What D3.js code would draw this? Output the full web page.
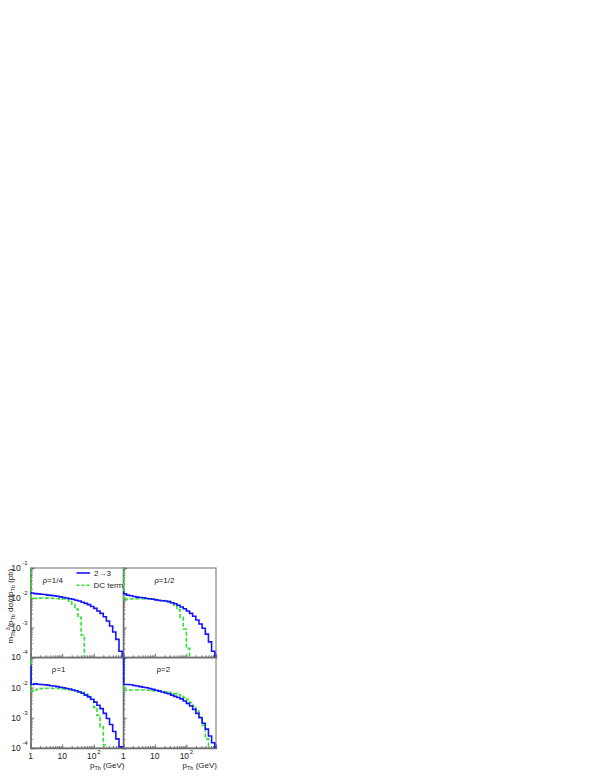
<!DOCTYPE html>
<html>
<head>
<meta charset="utf-8">
<script src="https://d3js.org/d3.v7.min.js"></script>
<style>
  body { margin: 0; background: #fff; }
  text { font-family: "Liberation Sans", Arial, sans-serif; fill: #222; }
</style>
</head>
<body>
<script>
// bin edges in GeV (first bin is the narrow one at pT = 1)
var binEdges = [1, 1.03, 1.26, 1.58, 2.0, 2.51, 3.16, 3.98, 5.01, 6.31, 7.94,
  10, 12.6, 15.8, 20.0, 25.1, 31.6, 39.8, 50.1, 63.1, 79.4,
  100, 126, 158, 200, 251, 316, 398, 501, 631, 794, 1000];

var panelLabels = ["\u03c1=1/4", "\u03c1=1/2", "\u03c1=1", "\u03c1=2"];
var legendLabels = ["2\u21923", "DC term"];

// 2 -> 3 histograms (pb)
var full14 = [0.0148, 0.0145, 0.0138, 0.0135, 0.0132, 0.0129, 0.0123, 0.0120, 0.0117, 0.0112, 0.0107,
  0.0102, 0.0098, 0.0093, 0.0089, 0.0083, 0.0078, 0.0071, 0.0065, 0.0059, 0.0051,
  0.0044, 0.0036, 0.0030, 0.0023, 0.00166, 0.00112, 0.00071, 0.00040, 0.00016, 0.00003];
var full12 = [0.016, 0.0135, 0.0123, 0.0117, 0.0110, 0.0105, 0.0102, 0.0100, 0.0095, 0.0093, 0.0089,
  0.0085, 0.0081, 0.0079, 0.0078, 0.0074, 0.0068, 0.0063, 0.0056, 0.0049, 0.0043,
  0.0036, 0.0030, 0.0024, 0.0018, 0.00132, 0.00095, 0.00060, 0.00033, 0.00016, 0.00003];
var full1 = [0.05, 0.0126, 0.0132, 0.0129, 0.0126, 0.0123, 0.0120, 0.0115, 0.0112, 0.0107, 0.0102,
  0.0098, 0.0093, 0.0089, 0.0083, 0.0078, 0.0071, 0.0065, 0.0056, 0.0049, 0.0041,
  0.0033, 0.0026, 0.0020, 0.0014, 0.00095, 0.00060, 0.00035, 0.00020, 0.00011, 0.00003];
var full2 = [0.2, 0.0126, 0.0126, 0.0123, 0.0117, 0.0112, 0.0107, 0.0102, 0.0098, 0.0093, 0.0087,
  0.0081, 0.0076, 0.0071, 0.0066, 0.0062, 0.0056, 0.0051, 0.0047, 0.0042, 0.0036,
  0.0030, 0.00245, 0.0019, 0.0014, 0.0010, 0.00066, 0.00042, 0.00025, 0.00015, 0.00003];

// DC term histograms (pb), 0.000001 = empty bin
var dc14 = [0.2, 0.0096, 0.0095, 0.0097, 0.0098, 0.0097, 0.0097, 0.0096, 0.0095, 0.0094, 0.0092,
  0.0091, 0.0087, 0.0076, 0.0060, 0.0042, 0.0022, 0.00056, 0.000001, 0.000001, 0.000001,
  0.000001, 0.000001, 0.000001, 0.000001, 0.000001, 0.000001, 0.000001, 0.000001, 0.000001, 0.000001];
var dc12 = [0.2, 0.0085, 0.0089, 0.0091, 0.0093, 0.0093, 0.0093, 0.0093, 0.0091, 0.0091, 0.0089,
  0.0087, 0.0083, 0.0081, 0.0078, 0.0074, 0.0068, 0.0056, 0.0040, 0.0022, 0.00089,
  0.0002, 0.000001, 0.000001, 0.000001, 0.000001, 0.000001, 0.000001, 0.000001, 0.000001, 0.000001];
var dc1 = [0.2, 0.0076, 0.0083, 0.0089, 0.0093, 0.0095, 0.0095, 0.0095, 0.0093, 0.0093, 0.0091,
  0.0089, 0.0087, 0.0085, 0.0081, 0.0078, 0.0072, 0.0068, 0.0062, 0.0054, 0.0040,
  0.0022, 0.0012, 0.0005, 0.000126, 0.000001, 0.000001, 0.000001, 0.000001, 0.000001, 0.000001];
var dc2 = [0.2, 0.0081, 0.0083, 0.0083, 0.0083, 0.0083, 0.0083, 0.0083, 0.0081, 0.0081, 0.0079,
  0.0078, 0.0076, 0.0074, 0.0072, 0.0069, 0.0066, 0.0063, 0.0059, 0.0054, 0.0047,
  0.0040, 0.0032, 0.0024, 0.00166, 0.00105, 0.00056, 0.0002, 0.000001, 0.000001, 0.000001];

var xMajor = [1, 10, 100];
var xMinor = [2, 3, 4, 5, 6, 7, 8, 9, 20, 30, 40, 50, 60, 70, 80, 90, 200, 300, 400, 500, 600, 700, 800];
var yMajor = [1e-4, 1e-3, 1e-2, 1e-1];
var yMinor = [2e-4, 3e-4, 4e-4, 5e-4, 6e-4, 7e-4, 8e-4, 9e-4, 2e-3, 3e-3, 4e-3, 5e-3, 6e-3, 7e-3, 8e-3, 9e-3,
  2e-2, 3e-2, 4e-2, 5e-2, 6e-2, 7e-2, 8e-2, 9e-2];
var xTickLabels = [["1", ""], ["10", ""], ["10", "2"]];
var yTickLabels = [["10", "-4"], ["10", "-3"], ["10", "-2"], ["10", "-1"]];

var fullSeries = [full14, full12, full1, full2];
var dcSeries = [dc14, dc12, dc1, dc2];

var blue = "#1414ff", green = "#33e033", axisCol = "#6e6e6e";

var svg = d3.select("body").append("svg")
  .attr("width", 599)
  .attr("height", 776);

// panel boxes: two columns, two rows, no gaps
var colX = [30.7, 123.3];
var panelW = 92.7;
var rowY = [568, 657.3];
var rowH = [89.3, 90.7];

var line = d3.line().curve(d3.curveStepAfter);

for (var p = 0; p < 4; p++) {
  var col = p % 2, row = Math.floor(p / 2);
  var x0 = colX[col], y0 = rowY[row], h = rowH[row];

  var x = d3.scaleLog().domain([1, 870]).range([0, panelW]);
  var y = d3.scaleLog().domain([1e-4, 1e-1]).range([h, 0]);

  var g = svg.append("g").attr("transform", "translate(" + x0 + "," + y0 + ")");

  // clip a little wider on the left so the spike at pT = 1 stays whole
  g.append("clipPath").attr("id", "clip" + p)
    .append("rect").attr("x", -1.5).attr("width", panelW + 1.5).attr("height", h);

  // frame
  g.append("rect")
    .attr("width", panelW).attr("height", h)
    .attr("fill", "none").attr("stroke", axisCol).attr("stroke-width", 1);

  // ticks point into the panel
  var bx = g.append("g").attr("transform", "translate(0," + h + ")");
  bx.call(d3.axisBottom(x).tickValues(xMajor).tickSize(-3.5).tickFormat(""));
  bx.append("g").call(d3.axisBottom(x).tickValues(xMinor).tickSize(-2).tickFormat(""))
    .select(".domain").remove();
  var ly = g.append("g");
  ly.call(d3.axisLeft(y).tickValues(yMajor).tickSize(-3.5).tickFormat(""));
  ly.append("g").call(d3.axisLeft(y).tickValues(yMinor).tickSize(-2).tickFormat(""))
    .select(".domain").remove();
  g.selectAll(".domain").attr("stroke", axisCol).attr("stroke-width", 1.3);
  g.selectAll(".tick line").attr("stroke", axisCol);

  // histograms, drawn as steps from the bin edges
  [[dcSeries[p], green, "4,2"], [fullSeries[p], blue, null]].forEach(function (s) {
    var vals = s[0];
    var pts = binEdges.map(function (e, i) {
      var v = vals[Math.min(i, vals.length - 1)];
      return [x(e), y(v)];
    });
    g.append("path")
      .attr("clip-path", "url(#clip" + p + ")")
      .attr("d", line(pts))
      .attr("fill", "none")
      .attr("stroke", s[1])
      .attr("stroke-width", 1.6)
      .attr("stroke-dasharray", s[2]);
  });

  // panel label
  g.append("text")
    .attr("x", [22, 41, 28, 40][p]).attr("y", 15)
    .attr("text-anchor", "middle").style("font-size", "8px")
    .text(panelLabels[p]);

  // y tick labels (left column only)
  if (col === 0) {
    yMajor.forEach(function (v, i) {
      if (row === 1 && i === 3) return;
      g.append("text")
        .attr("x", -10).attr("y", y(v) + 3)
        .attr("text-anchor", "end").style("font-size", "8.5px")
        .text(yTickLabels[i][0]);
      g.append("text")
        .attr("x", -8.5).attr("y", y(v) - 3)
        .style("font-size", "6px")
        .text(yTickLabels[i][1]);
    });
  }

  // x tick labels and title (bottom row only)
  if (row === 1) {
    xMajor.forEach(function (v, i) {
      g.append("text")
        .attr("x", x(v) - (i === 2 ? 2 : 0)).attr("y", h + 11)
        .attr("text-anchor", "middle").style("font-size", "8.5px")
        .text(xTickLabels[i][0]);
      if (xTickLabels[i][1]) {
        g.append("text")
          .attr("x", x(v) + 3.5).attr("y", h + 6)
          .style("font-size", "6px")
          .text(xTickLabels[i][1]);
      }
    });
    var xt = g.append("text")
      .attr("x", panelW + 1).attr("y", h + 20.5)
      .attr("text-anchor", "end").style("font-size", "8px");
    xt.append("tspan").text("p");
    xt.append("tspan").attr("dy", 2).style("font-size", "5.5px").text("Tb");
    xt.append("tspan").attr("dy", -2).text(" (GeV)");
  }
}

// legend, sitting in the top-left panel
var leg = svg.append("g");
leg.append("line").attr("x1", 76.5).attr("x2", 90).attr("y1", 573).attr("y2", 573)
  .attr("stroke", blue).attr("stroke-width", 1.6);
leg.append("line").attr("x1", 76.5).attr("x2", 90).attr("y1", 585.3).attr("y2", 585.3)
  .attr("stroke", green).attr("stroke-width", 1.6).attr("stroke-dasharray", "3,2");
leg.append("text").attr("x", 94).attr("y", 576).style("font-size", "8px").text(legendLabels[0]);
leg.append("text").attr("x", 93.5).attr("y", 588.3).style("font-size", "8px").text(legendLabels[1]);

// rotated y title
var yt = svg.append("text")
  .attr("transform", "translate(12.5,606) rotate(-90)")
  .attr("text-anchor", "middle").style("font-size", "8px");
yt.append("tspan").text("m");
yt.append("tspan").attr("dy", 2).style("font-size", "5.5px").text("Tb");
yt.append("tspan").attr("dy", -5).style("font-size", "5.5px").text("3");
yt.append("tspan").attr("dy", 3).text("/p");
yt.append("tspan").attr("dy", 2).style("font-size", "5.5px").text("Tb");
yt.append("tspan").attr("dy", -2).text(" d\u03c3/dp");
yt.append("tspan").attr("dy", 2).style("font-size", "5.5px").text("Tb");
yt.append("tspan").attr("dy", -2).text(" (pb)");
</script>
</body>
</html>
